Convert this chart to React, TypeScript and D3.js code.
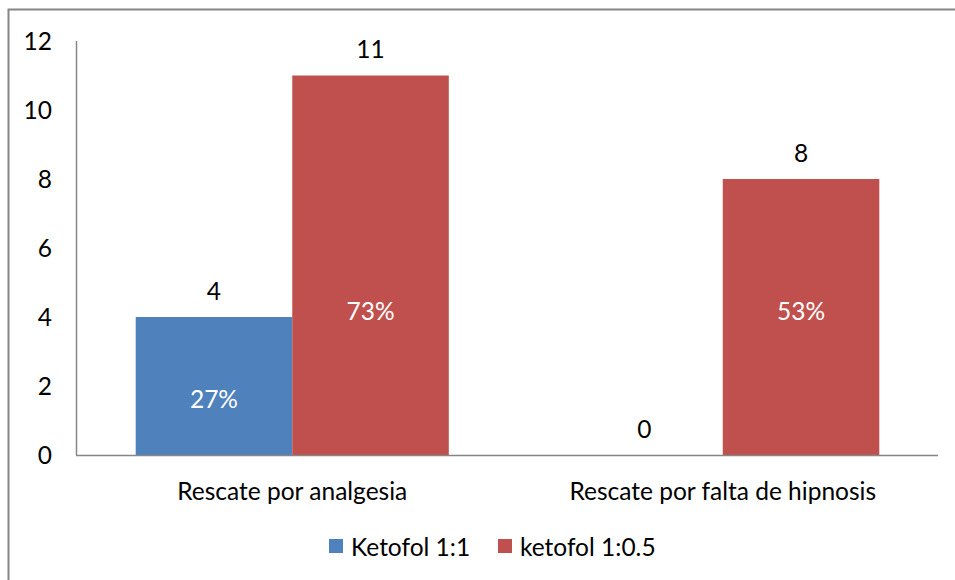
import React from "react";
import * as d3 from "d3";

const categories = ["Rescate por analgesia", "Rescate por falta de hipnosis"];
const seriesNames = ["Ketofol 1:1", "ketofol 1:0.5"];
const ketofol11 = [4, 0];
const ketofol105 = [11, 8];
const pct11 = ["27%", ""];
const pct105 = ["73%", "53%"];
const yTicks = [0, 2, 4, 6, 8, 10, 12];

const colors = ["#4f81bd", "#c0504d"];
const FONT = "Lato, 'Open Sans', sans-serif";
const FS = 24.5;

export default function App() {
  const W = 955;
  const H = 580;
  const margin = { top: 41, right: 17, bottom: 125, left: 77 };
  const x0 = d3
    .scaleBand<string>()
    .domain(categories)
    .range([margin.left, W - margin.right])
    .padding(0);
  const x1 = d3
    .scaleBand<string>()
    .domain(seriesNames)
    .range([0, x0.bandwidth()])
    .paddingInner(0)
    .paddingOuter(0.375);
  const y = d3.scaleLinear().domain([0, 12]).range([H - margin.bottom, margin.top]);

  const series = [
    { name: seriesNames[0], values: ketofol11, pct: pct11, color: colors[0] },
    { name: seriesNames[1], values: ketofol105, pct: pct105, color: colors[1] },
  ];

  const base = y(0);

  return (
    <svg width={W} height={H} style={{ position: "absolute", left: 0, top: 0 }} fontFamily={FONT}>
      <rect x={8.5} y={9.5} width={W} height={H} fill="#fff" stroke="#868686" strokeWidth={2} />
      {series.map((s) =>
        categories.map((c, i) => {
          const bx = (x0(c) ?? 0) + (x1(s.name) ?? 0);
          const by = y(s.values[i]);
          const cx = bx + x1.bandwidth() / 2;
          return (
            <g key={s.name + c}>
              {s.values[i] > 0 && (
                <rect x={bx} y={by} width={x1.bandwidth()} height={base - by} fill={s.color} />
              )}
              <text x={cx} y={by - 26} dy="0.35em" textAnchor="middle" fontSize={FS} fill="#000">
                {s.values[i]}
              </text>
              {s.pct[i] && (
                <text
                  x={cx}
                  y={s.name === seriesNames[0] ? y(1.6) : y(4.15)}
                  dy="0.35em"
                  textAnchor="middle"
                  fontSize={FS}
                  fill="#fff"
                >
                  {s.pct[i]}
                </text>
              )}
            </g>
          );
        })
      )}
      <line x1={margin.left - 0.5} x2={margin.left - 0.5} y1={margin.top} y2={base} stroke="#868686" strokeWidth={1.5} />
      <line x1={margin.left - 1} x2={W - margin.right} y1={base + 0.5} y2={base + 0.5} stroke="#868686" strokeWidth={1.5} />
      {yTicks.map((t) => (
        <text key={t} x={52} y={y(t)} dy="0.35em" textAnchor="end" fontSize={FS} fill="#000">
          {t}
        </text>
      ))}
      {categories.map((c) => (
        <text
          key={c}
          x={(x0(c) ?? 0) + x0.bandwidth() / 2}
          y={491}
          dy="0.35em"
          textAnchor="middle"
          fontSize={FS}
          fill="#000"
        >
          {c}
        </text>
      ))}
      {series.map((s, i) => {
        const lx = i === 0 ? 329 : 498;
        return (
          <g key={s.name} transform={`translate(${lx},539)`}>
            <rect width={14} height={14} fill={s.color} />
            <text x={22} y={8} dy="0.35em" fontSize={FS} fill="#000">
              {s.name}
            </text>
          </g>
        );
      })}
    </svg>
  );
}
